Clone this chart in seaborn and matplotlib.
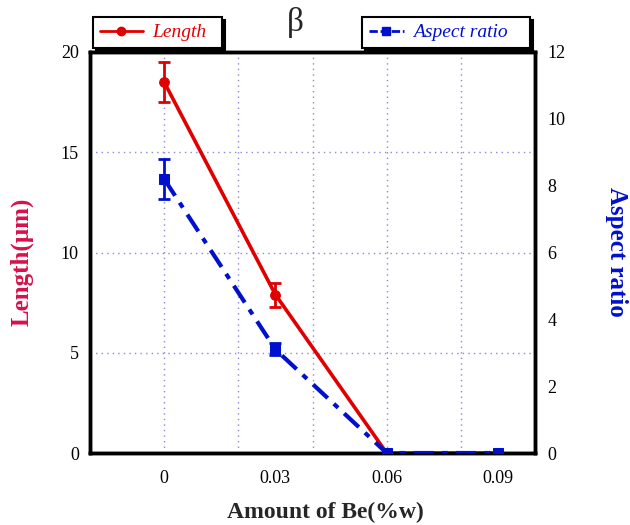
import matplotlib
matplotlib.use("Agg")
import matplotlib.pyplot as plt
import seaborn as sns
import pandas as pd
from matplotlib.lines import Line2D

be_amount = [0.0, 0.03, 0.06, 0.09]
length = [18.5, 7.9, 0.0, 0.0]
length_err = [1.0, 0.6, 0.0, 0.0]
aspect = [8.2, 3.1, 0.0, 0.0]
aspect_err = [0.6, 0.18, 0.0, 0.0]
x_ticks = [0, 0.03, 0.06, 0.09]
x_tick_labels = ["0", "0.03", "0.06", "0.09"]

sns.set_style("white")
plt.rcParams["font.family"] = ["Liberation Serif", "DejaVu Serif"]

RED = "#e00000"
BLUE = "#0010cc"
CRIMSON = "#d8104a"

df = pd.DataFrame({"x": be_amount, "length": length, "aspect": aspect})

W, H = 630, 525
fig = plt.figure(figsize=(6.3, 5.25), dpi=100)
ax = fig.add_axes([90 / W, 1 - 453 / H, 445 / W, 401 / H])
ax2 = ax.twinx()

sns.lineplot(data=df, x="x", y="length", ax=ax, color=RED, lw=2.6,
             marker="o", markersize=7, markeredgecolor=RED, zorder=3)
ax.errorbar(be_amount[:2], length[:2], yerr=length_err[:2], fmt="none",
            ecolor=RED, elinewidth=2, capsize=4, capthick=2, zorder=3)

sns.lineplot(data=df, x="x", y="aspect", ax=ax2, color=BLUE, lw=3,
             marker="s", markersize=7, markeredgecolor=BLUE, zorder=4)
ax2.lines[0].set_dashes([4.8, 2, 1.4, 2])
ax2.errorbar(be_amount[:2], aspect[:2], yerr=aspect_err[:2], fmt="none",
             ecolor=BLUE, elinewidth=2, capsize=4, capthick=2, zorder=4)

ax.set_xlim(-0.02, 0.1)
ax.set_ylim(0, 20)
ax2.set_ylim(0, 12)
ax.set_xticks(x_ticks)
ax.set_xticklabels(x_tick_labels)
ax.set_yticks([0, 5, 10, 15, 20])
ax2.set_yticks([0, 2, 4, 6, 8, 10, 12])

# grid
for gx in [0, 0.02, 0.04, 0.06, 0.08]:
    ax.axvline(gx, color="#8888dd", lw=1, ls=(0, (1, 3)), zorder=1)
for gy in [5, 10, 15]:
    ax.axhline(gy, color="#8888dd", lw=1, ls=(0, (1, 3)), zorder=1)

for a in (ax, ax2):
    a.tick_params(axis="both", length=0, labelsize=13, colors="black")
    for s in a.spines.values():
        s.set_linewidth(2.5)
        s.set_color("black")
ax.tick_params(axis="x", pad=12)
ax.tick_params(axis="y", pad=8)
ax2.tick_params(axis="y", pad=9)

ax.set_xlabel("Amount of Be(%w)", fontsize=17, fontweight="bold")
ax.xaxis.set_label_coords((325 - 90) / 445, (453 - 502) / 401)
ax.set_ylabel("Length(µm)", fontsize=18, fontweight="bold", color=CRIMSON)
ax.yaxis.set_label_coords((34 - 90) / 445, (453 - 262) / 401)
ax2.set_ylabel("Aspect ratio", fontsize=18, fontweight="bold", color=BLUE,
               rotation=270, va="bottom")
ax2.yaxis.set_label_coords((605 - 90) / 445, (453 - 252) / 401)

fig.text(295 / W, 1 - 22 / H, "β", fontsize=24, ha="center", va="center")

common = dict(loc="upper left", mode="expand", frameon=True, fancybox=False,
              shadow={"color": "black", "alpha": 1}, edgecolor="black",
              prop={"style": "italic", "size": 14}, borderpad=0.35,
              borderaxespad=0, handletextpad=0.5)

h1 = [Line2D([0], [0], color=RED, lw=2, marker="o", markersize=6)]
leg1 = fig.legend(h1, ["Length"], handlelength=2.2,
                  bbox_to_anchor=(93 / W, 1 - 49 / H, 129 / W, 32 / H), **common)
leg1.get_frame().set_linewidth(1.5)
leg1.get_texts()[0].set_color(RED)

h2 = [Line2D([0], [0], color=BLUE, lw=2, ls=(0, (3, 1)), marker="s", markersize=6)]
leg2 = fig.legend(h2, ["Aspect ratio"], handlelength=1.8,
                  bbox_to_anchor=(362 / W, 1 - 49 / H, 168 / W, 32 / H), **common)
leg2.get_frame().set_linewidth(1.5)
leg2.get_texts()[0].set_color(BLUE)

fig.savefig("out.png", dpi=100)
